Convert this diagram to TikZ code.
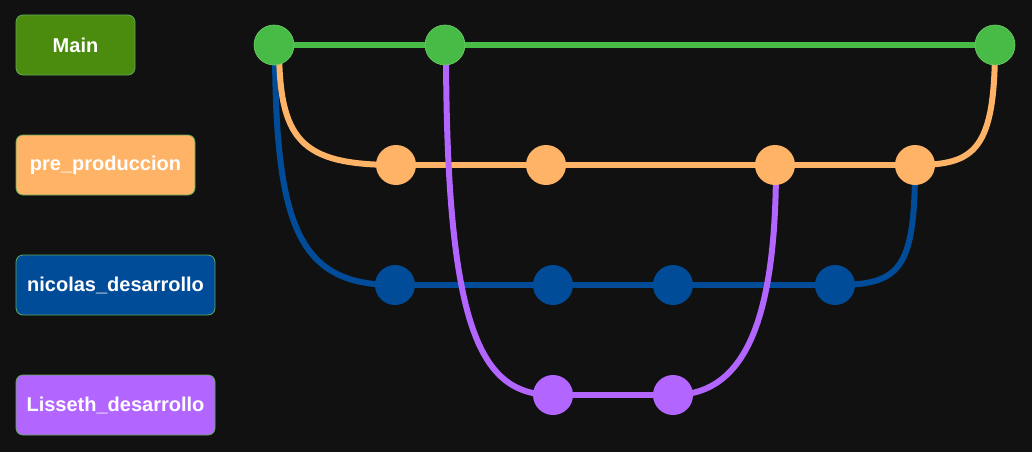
\documentclass[tikz,border=0pt]{standalone}
\usepackage{fontspec}
\setmainfont{Liberation Sans}
\usetikzlibrary{calc}
\pgfdeclarelayer{bg}
\pgfdeclarelayer{lines}
\pgfsetlayers{bg,lines,main}
\definecolor{bgc}{HTML}{111111}
\definecolor{gmain}{HTML}{47BB45}
\definecolor{gbox}{HTML}{4B8C0F}
\definecolor{grim}{HTML}{6FCF6A}
\definecolor{oc}{HTML}{FFB366}
\definecolor{bc}{HTML}{004C99}
\definecolor{pc}{HTML}{B366FF}
\definecolor{bord}{HTML}{5FA85A}
\tikzset{
  lbl/.style={draw=bord, line width=0.8pt, rounded corners=7pt, minimum height=60pt,
    text=white, font=\fontsize{20}{24}\selectfont\bfseries, inner sep=0pt},
  commit/.style={circle, minimum size=40pt, inner sep=0pt},
  gcommit/.style={commit, fill=gmain, draw=grim, line width=0.6pt},
  ocommit/.style={commit, fill=oc},
  bcommit/.style={commit, fill=bc},
  pcommit/.style={commit, fill=pc},
  br/.style={line width=6pt}
}
\begin{document}
\begin{tikzpicture}[x=1pt,y=-1pt]
\begin{pgfonlayer}{bg}
\fill[bgc] (0,0) rectangle (1032,452);
\end{pgfonlayer}
\useasboundingbox (0,0) rectangle (1032,452);
% labels
\node[lbl, fill=gbox, minimum width=119pt] (lmain) at (75.5,45) {\raisebox{-1.5pt}{Main}};
\node[lbl, fill=oc, minimum width=179pt] (lpre) at (105.5,165) {\raisebox{-1.5pt}{pre\_produccion}};
\node[lbl, fill=bc, minimum width=199pt] (lnic) at (115.5,285) {\raisebox{-1.5pt}{nicolas\_desarrollo}};
\node[lbl, fill=pc, minimum width=199pt] (llis) at (115.5,405) {\raisebox{-1.5pt}{Lisseth\_desarrollo}};
% commits
\node[gcommit] (m1) at (274,45) {};
\node[gcommit] (m2) at (445,45) {};
\node[gcommit] (m3) at (995,45) {};
\node[ocommit] (p1) at (396,165) {};
\node[ocommit] (p2) at (546,165) {};
\node[ocommit] (p3) at (775,165) {};
\node[ocommit] (p4) at (915,165) {};
\node[bcommit] (n1) at (395,285) {};
\node[bcommit] (n2) at (553,285) {};
\node[bcommit] (n3) at (673,285) {};
\node[bcommit] (n4) at (835,285) {};
\node[pcommit] (l1) at (553,395) {};
\node[pcommit] (l2) at (673,395) {};
\begin{pgfonlayer}{lines}
% blue
\draw[br, bc] ($(m1.center)+(1,0)$) .. controls ($(m1.center)+(1,185)$) and ($(n1.center)+(-95,0)$) .. (n1.center);
\draw[br, bc] (n1.center) -- (n2.center) -- (n3.center) -- (n4.center);
\draw[br, bc] (n4.center) .. controls ($(n4.center)+(65,0)$) and ($(p4.center)+(0,105)$) .. (p4.center);
% orange
\draw[br, oc] ($(m1.center)+(5,0)$) .. controls ($(m1.center)+(5,95)$) and ($(p1.center)+(-96,0)$) .. (p1.center);
\draw[br, oc] (p1.center) -- (p2.center) -- (p3.center) -- (p4.center);
\draw[br, oc] (p4.center) .. controls ($(p4.center)+(60,0)$) and ($(m3.center)+(0,105)$) .. (m3.center);
% purple
\draw[br, pc] ($(m2.center)+(1,0)$) .. controls ($(m2.center)+(1,285)$) and ($(l1.center)+(-73,0)$) .. (l1.center);
\draw[br, pc] (l1.center) -- (l2.center);
\draw[br, pc] (l2.center) .. controls ($(l2.center)+(72,0)$) and ($(p3.center)+(1,155)$) .. ($(p3.center)+(1,0)$);
% green
\draw[br, gmain] (m1.center) -- (m2.center) -- (m3.center);
\end{pgfonlayer}
\end{tikzpicture}
\end{document}
